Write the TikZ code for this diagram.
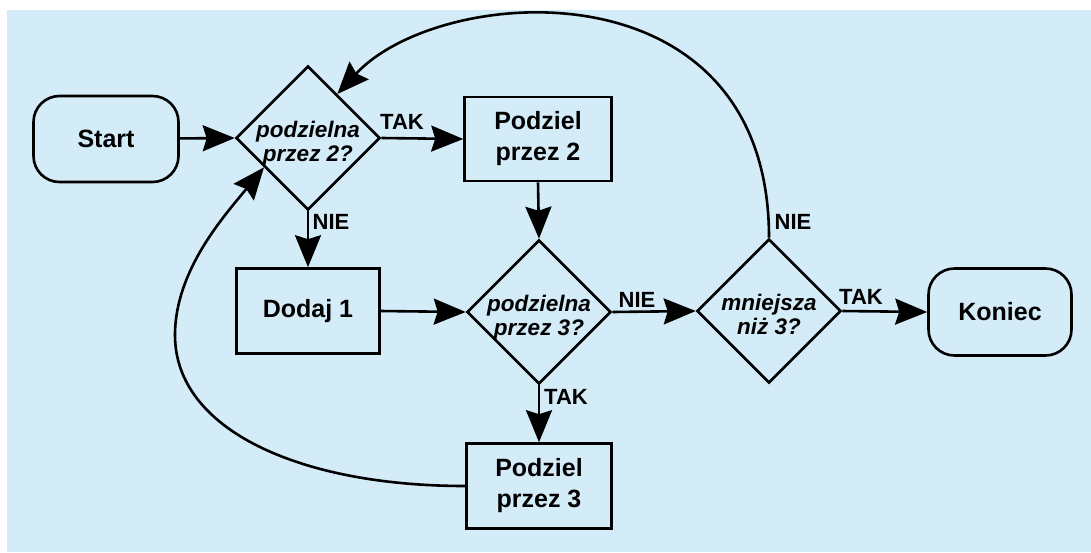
\documentclass[tikz,border=0pt]{standalone}
\usepackage{fontspec}
\setmainfont{Liberation Sans}
\usetikzlibrary{shapes.geometric,arrows.meta,calc}
\definecolor{bg}{HTML}{D4EBF8}
\newcommand{\dtxt}[2]{\makebox[0pt]{\raisebox{-12pt}[0pt][0pt]{\begin{tabular}{@{}c@{}}#1\\#2\end{tabular}}}}
\begin{document}
\begin{tikzpicture}[x=1pt,y=-1pt,line width=2.6pt,
 box/.style={draw,rectangle,minimum width=146pt,minimum height=87pt,inner sep=0pt,align=center,font=\fontsize{25}{31}\selectfont\bfseries},
 term/.style={box,rounded corners=26pt},
 dec/.style={draw,diamond,minimum width=144pt,minimum height=144pt,inner sep=0pt,font=\fontsize{22.5}{24}\selectfont\bfseries\itshape},
 lbl/.style={font=\fontsize{22}{24}\selectfont\bfseries,inner sep=0pt},
 arr/.style={-{Stealth[length=32pt,width=26pt,inset=4pt]}}]
\fill[white] (0,0) rectangle (1091,552);
\fill[bg] (7,10) rectangle (1091,552);
\useasboundingbox (0,0) rectangle (1091,552);

\node[term,minimum width=145pt,minimum height=86pt] (start) at (106,139) {Start};
\node[dec] (d1) at (308,138) {\dtxt{podzielna}{przez 2?}};
\node[box,minimum width=147pt,minimum height=84pt] (p2) at (538,139) {Podziel\\przez 2};
\node[box,minimum width=143pt,minimum height=85pt] (dodaj) at (308,311) {Dodaj 1};
\node[dec] (d2) at (539,312) {\dtxt{podzielna}{przez 3?}};
\node[dec] (d3) at (769,311) {\dtxt{mniejsza}{niż 3?}};
\node[term,minimum width=143pt,minimum height=87pt] (koniec) at (1000,312) {Koniec};
\node[box,minimum width=145pt,minimum height=85pt] (p3) at (539,486) {Podziel\\przez 3};

\draw[arr] (start) -- (d1.west);
\draw[arr] (d1.east) -- (p2.west);
\draw[arr] (p2.south) -- (d2.north);
\draw[arr] (d1.south) -- (dodaj.north);
\draw[arr] (dodaj.east) -- (d2.west);
\draw[arr] (d2.east) -- (d3.west);
\draw[arr] (d2.south) -- (p3.north);
\draw[arr] (d3.east) -- (koniec.west);
\coordinate (e1) at ($(d1.north)!0.4!(d1.east)$);
\coordinate (e2) at ($(d1.west)!0.4!(d1.south)$);
\draw[arr] (d3.north) .. controls (769,-40) and (440,-17) .. (e1);
\draw[arr] (p3.west) .. controls (300,486) and (175,430) .. (175,335) .. controls (175,270) and (225,215) .. (e2);

\node[lbl] (l1) at (402,122) {TAK};
\node[lbl] (l2) at (331,222) {NIE};
\node[lbl] (l3) at (637,300) {NIE};
\node[lbl] (l4) at (566,397) {TAK};
\node[lbl] (l5) at (793,222) {NIE};
\node[lbl] (l6) at (861,297) {TAK};
\end{tikzpicture}
\end{document}
